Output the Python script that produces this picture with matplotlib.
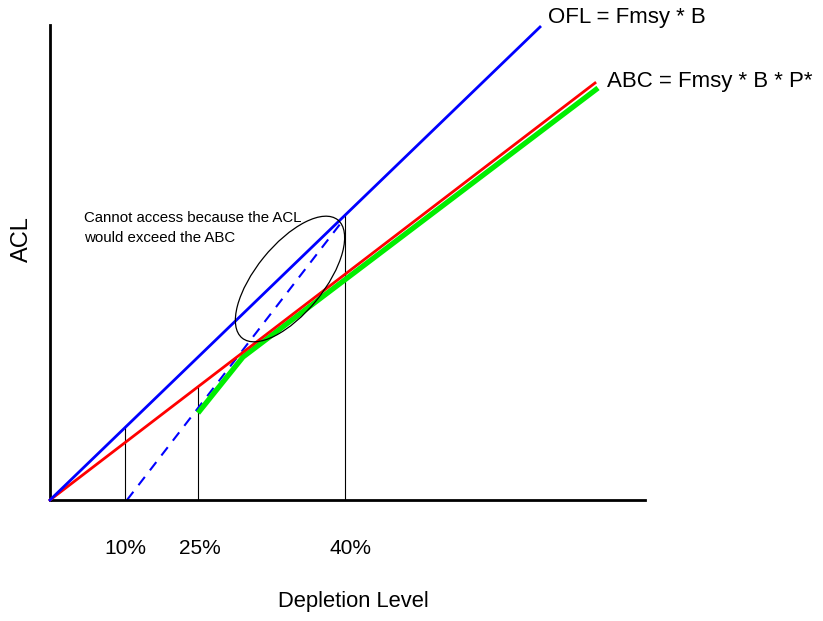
import matplotlib.pyplot as plt
import matplotlib.patches as patches

plt.rcParams['font.family'] = ['Liberation Sans', 'DejaVu Sans']

# schematic data (arbitrary units, origin at lower left)
ofl_x = [0, 490]
ofl_y = [0, 473]
abc_x = [0, 545]
abc_y = [0, 417]
acl_x = [148, 193, 548]
acl_y = [87, 143, 412]
dash_x = [77, 294]
dash_y = [0, 281]

depl_x = [75, 148, 295]
depl_top = [72, 113, 284]
depl_labels = ['10%', '25%', '40%']
label_shift = [0, 2, 5]

fig = plt.figure(figsize=(8.23, 6.21), dpi=100)
ax = fig.add_axes([50 / 823, 121 / 621, 595 / 823, 475 / 621])
ax.set_xlim(0, 595)
ax.set_ylim(0, 475)
ax.spines['top'].set_visible(False)
ax.spines['right'].set_visible(False)
ax.spines['left'].set_linewidth(2)
ax.spines['bottom'].set_linewidth(2)
ax.set_xticks([])
ax.set_yticks([])

# vertical markers
for x, top in zip(depl_x, depl_top):
    ax.plot([x, x], [0, top], color='black', lw=0.8, zorder=1)

ax.plot(dash_x, dash_y, color='blue', lw=1.5, ls=(0, (5, 4)), zorder=2)
ax.plot(acl_x, acl_y, color='#00ee00', lw=3.8, solid_capstyle='butt', zorder=2, clip_on=False)
ax.plot(abc_x, abc_y, color='red', lw=2, zorder=3, clip_on=False)
ax.plot(ofl_x, ofl_y, color='blue', lw=2, zorder=4, clip_on=False)

ell = patches.Ellipse((240, 221), 152, 68, angle=51, fill=False, edgecolor='black', lw=0.9, zorder=5)
ax.add_patch(ell)

ax.text(34, 272, 'Cannot access because the ACL\nwould exceed the ABC', fontsize=10.8,
        va='center', ha='left', linespacing=1.5)
ax.text(498, 482, 'OFL = Fmsy * B', fontsize=16, va='center', ha='left', clip_on=False)
ax.text(557, 418, 'ABC = Fmsy * B * P*', fontsize=16, va='center', ha='left', clip_on=False)

for x, lab, dx in zip(depl_x, depl_labels, label_shift):
    ax.text(x + dx, -48, lab, fontsize=15, ha='center', va='center', clip_on=False)

fig.text(353 / 823, 1 - 602 / 621, 'Depletion Level', fontsize=15.8, ha='center', va='center')
fig.text(22 / 823, 1 - 239 / 621, 'ACL', fontsize=17, ha='center', va='center', rotation=90)

fig.savefig('out.png', dpi=100)
